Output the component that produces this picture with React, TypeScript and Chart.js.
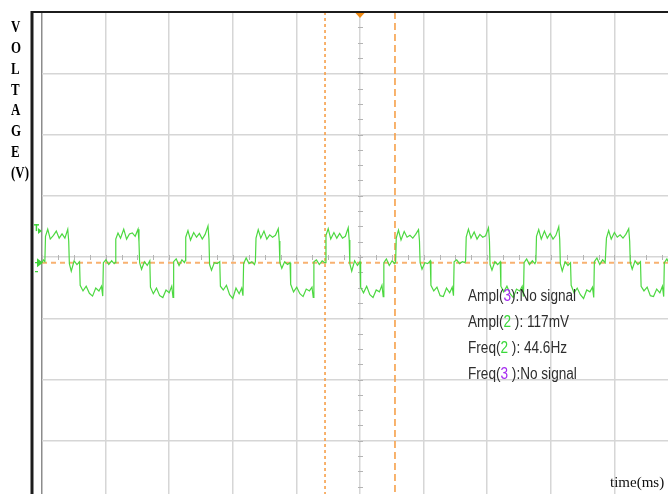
import { useEffect, useRef } from "react";
import { Chart, registerables } from "chart.js";

Chart.register(...registerables);

// Channel 2 trace, one line per period of the stepped wave (time in ms, level in mV)
const traceTimeMs = [
  0, 0.4,
  0.9, 1.1, 1.8, 2.6, 3.6, 4.5, 5.4, 6.3, 7.2, 8.1, 8.4, 8.6, 9.2, 10.1, 11.0, 11.8, 12.0, 12.9, 13.9, 14.9, 15.9, 16.9, 17.9, 18.7, 19.1, 19.3, 20.1, 21.0, 21.9, 22.7,
  23.0, 23.2, 23.9, 24.7, 25.7, 26.6, 27.5, 28.4, 29.3, 30.2, 30.5, 30.7, 31.3, 32.2, 33.1, 33.9, 34.1, 35.0, 36.0, 37.0, 38.0, 39.0, 40.0, 40.8, 41.2, 41.4, 42.2, 43.1, 44.0, 44.8,
  45.0, 45.2, 45.9, 46.7, 47.7, 48.6, 49.5, 50.4, 51.3, 52.2, 52.5, 52.7, 53.3, 54.2, 55.1, 55.9, 56.1, 57.0, 58.0, 59.0, 60.0, 61.0, 62.0, 62.8, 63.2, 63.4, 64.2, 65.1, 66.0, 66.8,
  67.1, 67.3, 68.0, 68.8, 69.8, 70.7, 71.6, 72.5, 73.4, 74.3, 74.6, 74.8, 75.4, 76.3, 77.2, 78.0, 78.2, 79.1, 80.1, 81.1, 82.1, 83.1, 84.1, 84.9, 85.3, 85.5, 86.3, 87.2, 88.1, 88.9,
  89.1, 89.3, 90.0, 90.8, 91.8, 92.7, 93.6, 94.5, 95.4, 96.3, 96.6, 96.8, 97.4, 98.3, 99.2, 100.0, 100.2, 101.1, 102.1, 103.1, 104.1, 105.1, 106.1, 106.9, 107.3, 107.5, 108.3, 109.2, 110.1, 110.9,
  111.2, 111.4, 112.1, 112.9, 113.9, 114.8, 115.7, 116.6, 117.5, 118.4, 118.7, 118.9, 119.5, 120.4, 121.3, 122.1, 122.3, 123.2, 124.2, 125.2, 126.2, 127.2, 128.2, 129.0, 129.4, 129.6, 130.4, 131.3, 132.2, 133.0,
  133.2, 133.4, 134.1, 134.9, 135.9, 136.8, 137.7, 138.6, 139.5, 140.4, 140.7, 140.9, 141.5, 142.4, 143.3, 144.1, 144.3, 145.2, 146.2, 147.2, 148.2, 149.2, 150.2, 151.0, 151.4, 151.6, 152.4, 153.3, 154.2, 155.0,
  155.3, 155.5, 156.2, 157.0, 158.0, 158.9, 159.8, 160.7, 161.6, 162.5, 162.8, 163.0, 163.6, 164.5, 165.4, 166.2, 166.4, 167.3, 168.3, 169.3, 170.3, 171.3, 172.3, 173.1, 173.5, 173.7, 174.5, 175.4, 176.3, 177.1,
  177.3, 177.5, 178.2, 179.0, 180.0, 180.9, 181.8, 182.7, 183.6, 184.5, 184.8, 185.0, 185.6, 186.5, 187.4, 188.2, 188.4, 189.3, 190.3, 191.3, 192.3, 193.3, 194.3, 195.1, 195.5, 195.7, 196.5, 197.4, 198.3, 199.1,
  199.4, 199.6, 200,
];

const traceMilliVolts = [
  -12, -6,
  -10, 44, 59, 38, 46, 55, 40, 49, 40, 59, 34, -14, -30, -8, -16, -10, -60, -72, -62, -77, -83, -66, -72, -62, -83, -12, -6, -16, -8, -14,
  -12, 38, 51, 40, 59, 38, 49, 51, 44, 59, 32, -12, -26, -10, -18, -8, -64, -78, -66, -82, -86, -70, -76, -62, -86, -10, -4, -18, -6, -12,
  -8, 42, 56, 36, 52, 42, 50, 38, 48, 66, 38, -16, -28, -12, -14, -10, -62, -70, -60, -80, -88, -66, -78, -66, -82, -14, -2, -14, -10, -16,
  -10, 40, 58, 40, 55, 38, 47, 42, 46, 60, 34, -12, -24, -10, -16, -12, -58, -74, -64, -78, -84, -68, -72, -64, -86, -10, -6, -16, -8, -12,
  -12, 46, 60, 38, 52, 40, 50, 40, 44, 62, 36, -14, -30, -8, -18, -10, -64, -76, -62, -80, -86, -70, -74, -60, -84, -12, -4, -18, -8, -14,
  -10, 40, 57, 36, 54, 42, 46, 40, 48, 58, 34, -12, -26, -12, -14, -8, -60, -72, -64, -82, -84, -66, -76, -64, -82, -10, -6, -14, -10, -12,
  -8, 42, 59, 40, 53, 38, 48, 42, 45, 62, 36, -16, -28, -10, -16, -10, -62, -74, -62, -78, -86, -68, -72, -62, -84, -12, -4, -16, -8, -14,
  -10, 44, 58, 38, 55, 40, 50, 38, 46, 64, 38, -14, -30, -10, -18, -12, -60, -76, -66, -80, -88, -70, -74, -64, -86, -10, -2, -16, -6, -12,
  -12, 40, 56, 38, 52, 42, 47, 40, 48, 60, 34, -12, -26, -8, -16, -10, -62, -72, -64, -82, -84, -68, -76, -62, -84, -12, -4, -16, -8, -14,
  -10, 42, 56,
];

// Screen scale: 10 x 20 ms horizontally, 8 x 130 mV vertically
const timeMinMs = 0;
const timeMaxMs = 200;
const msPerDiv = 20;
const mvMin = -520;
const mvMax = 520;
const mvPerDiv = 130;

// Cursors and markers
const cursorTimesMs = [89, 111];
const triggerTimeMs = 100;
const triggerLevelMv = -12;
const channelRefMv = -12;
const triggerMarkMv = 55;

// Text
const yTitleLetters = ["V", "O", "L", "T", "A", "G", "E", "(V)"];
const xTitle = "time(ms)";
const readoutPrefix = ["Ampl(", "Ampl(", "Freq(", "Freq("];
const readoutChannel = ["3", "2", "2", "3"];
const readoutSuffix = ["):No signal", " ): 117mV", " ): 44.6Hz", " ):No signal"];

const channelColors: Record<string, string> = { "2": "#3ad83a", "3": "#a52cf0" };
const traceColor = "#4cd840";
const gridColor = "#d6d6d6";
const cursorColor = "#f6a04a";

const scopeOverlay = {
  id: "scopeOverlay",
  beforeDatasetsDraw(chart: any) {
    const { ctx, chartArea: a, scales } = chart;
    const x = scales.x;
    const y = scales.y;
    ctx.save();

    // minor ticks along the centre axes
    ctx.strokeStyle = "#b4b4b4";
    ctx.lineWidth = 1;
    const cx = Math.round(x.getPixelForValue((timeMinMs + timeMaxMs) / 2));
    const cy = Math.round(y.getPixelForValue(0));
    for (let t = timeMinMs; t <= timeMaxMs; t += msPerDiv / 4) {
      const px = Math.round(x.getPixelForValue(t)) + 0.5;
      ctx.beginPath();
      ctx.moveTo(px, cy - 2);
      ctx.lineTo(px, cy + 3);
      ctx.stroke();
    }
    for (let v = mvMin; v <= mvMax; v += mvPerDiv / 4) {
      const py = Math.round(y.getPixelForValue(v)) + 0.5;
      ctx.beginPath();
      ctx.moveTo(cx - 2, py);
      ctx.lineTo(cx + 3, py);
      ctx.stroke();
    }

    // vertical time cursors
    ctx.strokeStyle = cursorColor;
    ctx.lineWidth = 1.6;
    const dashes = [
      [3, 3],
      [7, 4],
    ];
    cursorTimesMs.forEach((t, i) => {
      const px = x.getPixelForValue(t);
      ctx.setLineDash(dashes[i % dashes.length]);
      ctx.beginPath();
      ctx.moveTo(px, a.top);
      ctx.lineTo(px, a.bottom);
      ctx.stroke();
    });

    // trigger level
    ctx.strokeStyle = "#f8b170";
    ctx.lineWidth = 2;
    ctx.setLineDash([5, 4]);
    const ty = y.getPixelForValue(triggerLevelMv);
    ctx.beginPath();
    ctx.moveTo(a.left, ty);
    ctx.lineTo(a.right, ty);
    ctx.stroke();
    ctx.restore();
  },
  afterDraw(chart: any) {
    const { ctx, chartArea: a, scales } = chart;
    const x = scales.x;
    const y = scales.y;
    ctx.save();

    // frame lines
    ctx.fillStyle = "#1c1c1c";
    ctx.fillRect(31, a.top - 1, chart.width - 31, 2);
    ctx.fillRect(30.5, a.top - 1, 3, chart.height);

    // trigger position marker
    const tx = x.getPixelForValue(triggerTimeMs);
    ctx.fillStyle = "#f08a12";
    ctx.beginPath();
    ctx.moveTo(tx - 4.5, a.top + 1);
    ctx.lineTo(tx + 4.5, a.top + 1);
    ctx.lineTo(tx, a.top + 6);
    ctx.closePath();
    ctx.fill();

    // channel markers at the left edge
    ctx.fillStyle = "#3fd43a";
    ctx.strokeStyle = "#3fd43a";
    const my = y.getPixelForValue(triggerMarkMv);
    ctx.fillRect(34, my - 7, 5, 1.5);
    ctx.fillRect(35.7, my - 7, 1.5, 7);
    ctx.beginPath();
    ctx.moveTo(38, my - 3);
    ctx.lineTo(42, my);
    ctx.lineTo(38, my + 3);
    ctx.closePath();
    ctx.fill();

    const ry = y.getPixelForValue(channelRefMv);
    ctx.beginPath();
    ctx.moveTo(37, ry - 4.5);
    ctx.lineTo(43, ry);
    ctx.lineTo(37, ry + 4.5);
    ctx.closePath();
    ctx.fill();
    ctx.lineWidth = 1.3;
    ctx.beginPath();
    ctx.moveTo(35, ry);
    ctx.lineTo(38, ry);
    ctx.moveTo(35, ry + 9);
    ctx.lineTo(38, ry + 9);
    ctx.stroke();
    ctx.restore();
  },
};

export default function App() {
  const canvasRef = useRef<HTMLCanvasElement | null>(null);

  useEffect(() => {
    const canvas = canvasRef.current;
    if (!canvas) return;
    const points = traceTimeMs.map((t, i) => ({ x: t, y: traceMilliVolts[i] }));
    const chart = new Chart(canvas, {
      type: "line",
      data: {
        datasets: [
          {
            data: points,
            borderColor: traceColor,
            borderWidth: 1.2,
            pointRadius: 0,
            tension: 0,
            fill: false,
          },
        ],
      },
      options: {
        responsive: false,
        animation: false,
        devicePixelRatio: 1,
        layout: { padding: { left: 42, top: 12, right: 22, bottom: 18 } },
        plugins: { legend: { display: false }, tooltip: { enabled: false } },
        scales: {
          x: {
            type: "linear",
            min: timeMinMs,
            max: timeMaxMs,
            ticks: { display: false, stepSize: msPerDiv },
            grid: {
              drawTicks: false,
              lineWidth: 1.5,
              color: (c: any) => (c.tick && c.tick.value === timeMinMs ? "#8c8c8c" : gridColor),
            },
            border: { display: false },
          },
          y: {
            type: "linear",
            min: mvMin,
            max: mvMax,
            ticks: { display: false, stepSize: mvPerDiv },
            grid: { drawTicks: false, lineWidth: 1.5, color: gridColor },
            border: { display: false },
          },
        },
      },
      plugins: [scopeOverlay],
    });
    return () => chart.destroy();
  }, []);

  const readoutBaselines = [301, 327.5, 353.5, 379.5];

  return (
    <div
      style={{
        position: "fixed",
        left: 0,
        top: 0,
        width: 668,
        height: 494,
        overflow: "hidden",
        background: "#ffffff",
      }}
    >
      <canvas
        ref={canvasRef}
        width={700}
        height={520}
        style={{ position: "absolute", left: 0, top: 0, width: 700, height: 520 }}
      />
      {yTitleLetters.map((ch, i) => (
        <div
          key={i}
          style={{
            position: "absolute",
            left: 11,
            top: 16.8 + i * 20.9,
            font: "bold 17px 'Liberation Serif', serif",
            lineHeight: "20.9px",
            color: "#000000",
            transform: "scaleX(0.76)",
            transformOrigin: "left top",
            whiteSpace: "nowrap",
          }}
        >
          {ch}
        </div>
      ))}
      <div
        style={{
          position: "absolute",
          left: 610,
          top: 472,
          font: "15px 'Liberation Serif', serif",
          lineHeight: "20px",
          color: "#111111",
          whiteSpace: "nowrap",
        }}
      >
        {xTitle}
      </div>
      {readoutPrefix.map((p, i) => (
        <div
          key={i}
          style={{
            position: "absolute",
            left: 468,
            top: readoutBaselines[i] - 15.5,
            font: "16px 'Liberation Sans', sans-serif",
            lineHeight: "20px",
            color: "#2e2e2e",
            transform: "scaleX(0.85)",
            transformOrigin: "left top",
            whiteSpace: "pre",
          }}
        >
          {p}
          <span style={{ color: channelColors[readoutChannel[i]] }}>{readoutChannel[i]}</span>
          {readoutSuffix[i]}
        </div>
      ))}
    </div>
  );
}
